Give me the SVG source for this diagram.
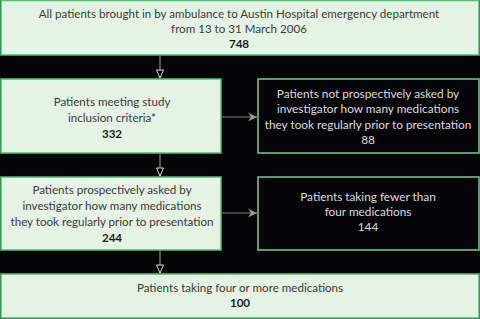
<svg xmlns="http://www.w3.org/2000/svg" width="480" height="319" viewBox="0 0 480 319">
<style>
.lb{fill:#e5f3e5;stroke:#4fbf77;stroke-width:1.5}
.db{fill:#050508;stroke:#6fcf95;stroke-width:1.5}
text{font-family:Lato,"Liberation Sans",sans-serif;font-size:11.6px;text-anchor:middle}
.t{fill:#3a3a3a}
.n{fill:#1a1a1a;font-weight:bold}
.w{fill:#dcdcdc;font-size:11.8px}
.c{stroke:#8a8a8a;stroke-width:1.2;fill:none}
</style>
<defs>
<marker id="open" markerWidth="10" markerHeight="8" refX="9" refY="4" orient="auto" markerUnits="userSpaceOnUse">
<path d="M1,0.5 L9,4 L1,7.5 Z" fill="#000" stroke="#ddd" stroke-width="1"/>
</marker>
<marker id="solid" markerWidth="10" markerHeight="10" refX="9" refY="5" orient="auto" markerUnits="userSpaceOnUse">
<path d="M0,0.5 L9,5 L0,9.5 L3,5 Z" fill="#9a9a9a"/>
</marker>
</defs>
<rect width="480" height="319" fill="#050508"/>
<g id="connectors">
<line class="c" x1="160" y1="56" x2="160" y2="78" marker-end="url(#open)"/>
<line class="c" x1="160" y1="154" x2="160" y2="176" marker-end="url(#open)"/>
<line class="c" x1="160" y1="251" x2="160" y2="273" marker-end="url(#open)"/>
<line class="c" x1="222" y1="117" x2="257" y2="117" marker-end="url(#solid)"/>
<line class="c" x1="222" y1="213" x2="257" y2="213" marker-end="url(#solid)"/>
</g>
<g id="n1">
<rect class="lb" x="1" y="0.5" width="478" height="54.5"/>
<text class="t" x="239" y="18">All patients brought in by ambulance to Austin Hospital emergency department</text>
<text class="t" x="239" y="33">from 13 to 31 March 2006</text>
<text class="n" x="239" y="48">748</text>
</g>
<g id="n2">
<rect class="lb" x="1" y="79" width="220" height="74"/>
<text class="t" x="112" y="106">Patients meeting study</text>
<text class="t" x="112" y="122">inclusion criteria*</text>
<text class="n" x="112" y="138">332</text>
</g>
<g id="n3">
<rect class="db" x="258" y="79" width="221" height="74"/>
<text class="w" x="368" y="98">Patients not prospectively asked by</text>
<text class="w" x="368" y="113">investigator how many medications</text>
<text class="w" x="368" y="129">they took regularly prior to presentation</text>
<text class="w" x="368" y="144">88</text>
</g>
<g id="n4">
<rect class="lb" x="1" y="177" width="220" height="73"/>
<text class="t" x="112" y="194">Patients prospectively asked by</text>
<text class="t" x="112" y="210">investigator how many medications</text>
<text class="t" x="112" y="226">they took regularly prior to presentation</text>
<text class="n" x="112" y="242">244</text>
</g>
<g id="n5">
<rect class="db" x="258" y="177" width="221" height="73"/>
<text class="w" x="368" y="201">Patients taking fewer than</text>
<text class="w" x="368" y="216">four medications</text>
<text class="w" x="368" y="231">144</text>
</g>
<g id="n6">
<rect class="lb" x="1" y="274" width="478" height="44"/>
<text class="t" x="240" y="292">Patients taking four or more medications</text>
<text class="n" x="240" y="307">100</text>
</g>
</svg>
